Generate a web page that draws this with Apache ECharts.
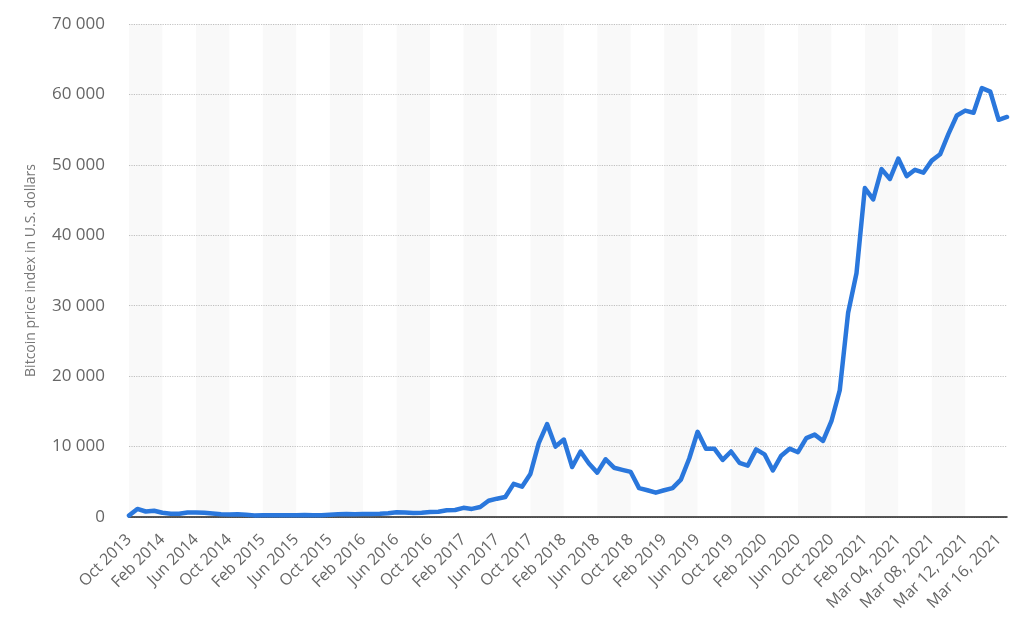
<!DOCTYPE html>
<html>
<head>
<meta charset="utf-8">
<script src="https://cdn.jsdelivr.net/npm/echarts@6/dist/echarts.min.js"></script>
<style>
html,body{margin:0;padding:0;background:#fff;}
#chart{width:1024px;height:631px;}
</style>
</head>
<body>
<div id="chart"></div>
<script>
const categories = [
  "Oct 2013","Nov 2013","Dec 2013",
  "Jan 2014","Feb 2014","Mar 2014","Apr 2014","May 2014","Jun 2014","Jul 2014","Aug 2014","Sep 2014","Oct 2014","Nov 2014","Dec 2014",
  "Jan 2015","Feb 2015","Mar 2015","Apr 2015","May 2015","Jun 2015","Jul 2015","Aug 2015","Sep 2015","Oct 2015","Nov 2015","Dec 2015",
  "Jan 2016","Feb 2016","Mar 2016","Apr 2016","May 2016","Jun 2016","Jul 2016","Aug 2016","Sep 2016","Oct 2016","Nov 2016","Dec 2016",
  "Jan 2017","Feb 2017","Mar 2017","Apr 2017","May 2017","Jun 2017","Jul 2017","Aug 2017","Sep 2017","Oct 2017","Nov 2017","Dec 2017",
  "Jan 2018","Feb 2018","Mar 2018","Apr 2018","May 2018","Jun 2018","Jul 2018","Aug 2018","Sep 2018","Oct 2018","Nov 2018","Dec 2018",
  "Jan 2019","Feb 2019","Mar 2019","Apr 2019","May 2019","Jun 2019","Jul 2019","Aug 2019","Sep 2019","Oct 2019","Nov 2019","Dec 2019",
  "Jan 2020","Feb 2020","Mar 2020","Apr 2020","May 2020","Jun 2020","Jul 2020","Aug 2020","Sep 2020","Oct 2020","Nov 2020","Dec 2020",
  "Jan 2021","Feb 2021",
  "Mar 01, 2021","Mar 02, 2021","Mar 03, 2021","Mar 04, 2021","Mar 05, 2021","Mar 06, 2021","Mar 07, 2021","Mar 08, 2021",
  "Mar 09, 2021","Mar 10, 2021","Mar 11, 2021","Mar 12, 2021","Mar 13, 2021","Mar 14, 2021","Mar 15, 2021","Mar 16, 2021","Mar 17, 2021"
];
const prices2013 = [200, 1150, 780];
const prices2014 = [880, 600, 470, 450, 640, 640, 600, 500, 400, 350, 380, 330];
const prices2015 = [230, 260, 250, 240, 235, 265, 285, 235, 240, 315, 380, 430];
const prices2016 = [380, 440, 420, 450, 530, 670, 625, 575, 610, 700, 745, 965];
const prices2017 = [1000, 1300, 1150, 1420, 2300, 2600, 2850, 4700, 4300, 6100, 10500, 13200];
const prices2018 = [10000, 11000, 7100, 9300, 7600, 6300, 8200, 7000, 6700, 6400, 4100, 3800];
const prices2019 = [3450, 3800, 4100, 5300, 8300, 12100, 9700, 9700, 8100, 9300, 7700, 7300];
const prices2020 = [9600, 8900, 6600, 8700, 9700, 9200, 11200, 11700, 10800, 13600, 18000, 29000];
const prices2021 = [34600, 46700];
const pricesMar2021 = [45100, 49400, 48000, 50900, 48400, 49300, 48900, 50600, 51500, 54400, 57000, 57700, 57400, 60900, 60400, 56400, 56800];
const yTicks = [0, 10000, 20000, 30000, 40000, 50000, 60000, 70000];
const yAxisTitle = "Bitcoin price index in U.S. dollars";

const values = [].concat(prices2013, prices2014, prices2015, prices2016, prices2017,
  prices2018, prices2019, prices2020, prices2021, pricesMar2021);

const fmt = v => String(v).replace(/\B(?=(\d{3})+(?!\d))/g, ' ');

const chart = echarts.init(document.getElementById('chart'), null, {renderer: 'canvas'});
chart.setOption({
  animation: false,
  backgroundColor: '#ffffff',
  textStyle: {fontFamily: 'Open Sans'},
  grid: {left: 129, right: 17, top: 24, bottom: 114, containLabel: false},
  xAxis: {
    type: 'category',
    data: categories,
    boundaryGap: false,
    axisLine: {show: true, lineStyle: {color: '#222', width: 1.5}},
    axisTick: {show: false},
    axisLabel: {
      interval: 3,
      rotate: 45,
      color: '#666',
      fontSize: 16,
      fontFamily: 'Open Sans',
      margin: 20
    },
    splitLine: {show: false},
    splitArea: {show: true, interval: 3, areaStyle: {color: ['rgba(0,0,0,0.022)', 'rgba(0,0,0,0)']}}
  },
  yAxis: {
    type: 'value',
    min: yTicks[0],
    max: yTicks[yTicks.length - 1],
    interval: 10000,
    name: yAxisTitle,
    nameLocation: 'middle',
    nameGap: 91,
    nameTextStyle: {color: '#777', fontSize: 14, fontFamily: 'Open Sans'},
    axisLine: {show: false},
    axisTick: {show: false},
    axisLabel: {color: '#666', fontSize: 17, fontFamily: 'Open Sans', margin: 24, formatter: fmt},
    splitLine: {show: true, lineStyle: {color: '#c4c4c4', type: [1.2, 1.2], width: 1}}
  },
  series: [{
    type: 'line',
    data: values,
    showSymbol: false,
    symbol: 'none',
    lineStyle: {color: '#2a77dc', width: 4.5, join: 'round', cap: 'round'},
    z: 3
  }]
});
</script>
</body>
</html>
